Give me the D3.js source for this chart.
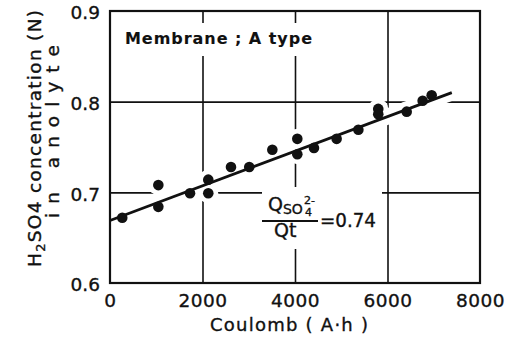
<html>
<head>
<meta charset="utf-8">
<script src="https://d3js.org/d3.v7.min.js"></script>
<style>
body{margin:0;background:#fff;}
text{font-family:"DejaVu Sans",sans-serif;fill:#111;stroke:#111;stroke-width:0.35px;}
</style>
</head>
<body>
<svg id="chart" width="519" height="349"></svg>
<script>
// data: charge passed (A.h) vs H2SO4 concentration (N)
let coulomb = [265,1045,1045,1730,2125,2125,2616,3011,3510,4050,4050,4410,4900,5370,5800,5800,6415,6760,6955];
let conc    = [0.672,0.708,0.684,0.699,0.714,0.699,0.728,0.728,0.747,0.759,0.742,0.749,0.759,0.769,0.792,0.786,0.789,0.801,0.807];
let fitX = [0,7390];
let fitY = [0.669,0.810];
let xTicks = [0,2000,4000,6000,8000];
let yTicks = [0.6,0.7,0.8,0.9];
let xGrid = [2000,4000,6000];
let yGrid = [0.7,0.8];

let svg = d3.select("#chart");
let mLeft = 110, mRight = 480, mTop = 11, mBottom = 283;
let x = d3.scaleLinear().domain([0,8000]).range([mLeft,mRight]);
let y = d3.scaleLinear().domain([0.6,0.9]).range([mBottom,mTop]);

// grid
svg.append("g").attr("transform","translate(0,"+mBottom+")")
  .call(d3.axisBottom(x).tickValues(xGrid).tickSize(-(mBottom-mTop)).tickFormat(""))
  .call(g=>g.select(".domain").remove())
  .selectAll("line").attr("stroke","#111").attr("stroke-width",1.6);
svg.append("g").attr("transform","translate("+mLeft+",0)")
  .call(d3.axisLeft(y).tickValues(yGrid).tickSize(-(mRight-mLeft)).tickFormat(""))
  .call(g=>g.select(".domain").remove())
  .selectAll("line").attr("stroke","#111").attr("stroke-width",1.6);

// tick labels
svg.append("g").attr("transform","translate(0,"+(mBottom+3)+")")
  .call(d3.axisBottom(x).tickValues(xTicks).tickSize(0).tickFormat(d3.format("d")))
  .call(g=>g.select(".domain").remove())
  .selectAll("text").attr("font-size",18.5).attr("dy","0.95em").style("letter-spacing","0.5px")
  .style("font-family","'DejaVu Sans',sans-serif").attr("fill","#111");
svg.append("g").attr("transform","translate("+(mLeft-7)+",0)")
  .call(d3.axisLeft(y).tickValues(yTicks).tickSize(0).tickFormat(d3.format(".1f")))
  .call(g=>g.select(".domain").remove())
  .selectAll("text").attr("font-size",18.5).attr("dy","0.42em")
  .style("font-family","'DejaVu Sans',sans-serif").attr("fill","#111");

// white halos so the grid breaks around text and marks, like the original
let line = d3.line().x(d=>x(d[0])).y(d=>y(d[1]));
let fit = d3.zip(fitX,fitY);
svg.append("path").datum(fit).attr("d",line).attr("stroke","#fff").attr("stroke-width",16).attr("fill","none");
svg.selectAll("circle.halo").data(coulomb).enter().append("circle").attr("class","halo")
  .attr("cx",d=>x(d)).attr("cy",(d,i)=>y(conc[i])).attr("r",10).attr("fill","#fff");

let title = svg.append("text").attr("x",125).attr("y",44).attr("font-size",16).attr("font-weight","bold")
  .style("stroke-width","0.1px")
  .attr("textLength",187).attr("lengthAdjust","spacing").text("Membrane ; A type");

// formula
let fg = svg.append("g");
let num = fg.append("text").attr("x",268).attr("y",211).attr("font-size",19);
num.append("tspan").text("Q");
num.append("tspan").attr("font-size",14).attr("dy",3).text("SO");
num.append("tspan").attr("font-size",11).attr("x",304).attr("dy",-10).text("2-");
num.append("tspan").attr("font-size",11).attr("x",305).attr("dy",12).text("4");
fg.append("text").attr("x",274).attr("y",237).attr("font-size",19).text("Qt");
fg.append("text").attr("x",320).attr("y",227).attr("font-size",19).attr("textLength",56).attr("lengthAdjust","spacingAndGlyphs").text("=0.74");

[title.node(),fg.node()].forEach(n=>{
  let b = n.getBBox();
  svg.insert("rect",function(){return n;}).attr("x",b.x-6).attr("y",b.y-6).attr("width",b.width+12).attr("height",b.height+14).attr("fill","#fff");
});
fg.append("line").attr("x1",262).attr("x2",318).attr("y1",221).attr("y2",221).attr("stroke","#111").attr("stroke-width",1.8);

// fit line and points
svg.append("path").datum(fit).attr("d",line).attr("stroke","#111").attr("stroke-width",2.8).attr("fill","none");
svg.selectAll("circle.pt").data(coulomb).enter().append("circle").attr("class","pt")
  .attr("cx",d=>x(d)).attr("cy",(d,i)=>y(conc[i])).attr("r",5.3).attr("fill","#111");

// frame
svg.append("rect").attr("x",mLeft).attr("y",mTop).attr("width",mRight-mLeft).attr("height",mBottom-mTop)
  .attr("fill","none").attr("stroke","#111").attr("stroke-width",2.2);

// axis titles
svg.append("text").attr("x",289).attr("y",331).attr("text-anchor","middle").attr("font-size",18)
  .attr("textLength",158).attr("lengthAdjust","spacing").text("Coulomb  ( A\u00b7h )");
let yl = svg.append("text").attr("transform","translate(41,267) rotate(-90)").attr("font-size",18.5)
  .attr("textLength",257).attr("lengthAdjust","spacing");
yl.append("tspan").text("H");
yl.append("tspan").attr("font-size",13).attr("dy",4).text("2");
yl.append("tspan").attr("dy",-4).text("SO4  concentration (N)");
svg.append("text").attr("transform","translate(59,218) rotate(-90)").attr("font-size",18.5)
  .attr("textLength",173).attr("lengthAdjust","spacing").text("in  anolyte");
</script>
</body>
</html>
